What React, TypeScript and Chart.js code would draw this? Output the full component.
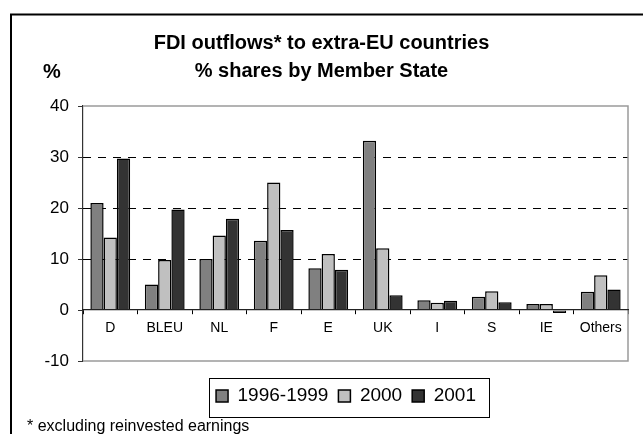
import { useEffect, useRef } from 'react';
import { Chart, registerables } from 'chart.js';

Chart.register(...registerables);

const categories = ['D', 'BLEU', 'NL', 'F', 'E', 'UK', 'I', 'S', 'IE', 'Others'];
const seriesLabels = ['1996-1999', '2000', '2001'];
const values9699 = [21, 5, 10, 13.6, 8.2, 33.2, 1.9, 2.6, 1.2, 3.6];
const values2000 = [14.2, 9.8, 14.6, 25, 11, 12.1, 1.4, 3.7, 1.2, 6.8];
const values2001 = [29.7, 19.7, 17.9, 15.7, 7.9, 2.9, 1.8, 1.5, -0.6, 4.0];
const seriesColors = ['#808080', '#c0c0c0', '#333333'];
const yMin = -10;
const yMax = 40;
const yStep = 10;
const titleLines = ['FDI outflows* to extra-EU countries', '% shares by Member State'];
const yUnit = '%';
const footnote = '* excluding reinvested earnings';

const FONT = "'Liberation Sans', Arial, Helvetica, sans-serif";

const decorPlugin = {
  id: 'decor',
  afterLayout(chart: any) {
    const lg = chart.legend;
    if (lg) {
      lg.left += 24.5;
      lg.right += 24.5;
    }
  },
  beforeDraw(chart: any) {
    const ctx = chart.ctx;
    ctx.save();
    ctx.fillStyle = '#ffffff';
    ctx.fillRect(0, 0, chart.width, chart.height);
    ctx.strokeStyle = '#000';
    ctx.lineWidth = 2;
    ctx.strokeRect(11, 14.5, chart.width + 40, chart.height + 40);
    ctx.restore();
  },
  beforeDatasetsDraw(chart: any) {
    const { ctx, chartArea: a } = chart;
    const y = chart.scales.y;
    ctx.save();
    ctx.strokeStyle = '#000';
    ctx.lineWidth = 1;
    ctx.setLineDash([8, 7]);
    y.ticks.forEach((t: any) => {
      if (t.value === y.min || t.value === y.max || t.value === 0) return;
      const py = Math.round(y.getPixelForValue(t.value)) + 0.5;
      ctx.beginPath();
      ctx.moveTo(a.left, py);
      ctx.lineTo(a.right, py);
      ctx.stroke();
    });
    ctx.setLineDash([]);
    ctx.strokeStyle = '#9a9a9a';
    ctx.lineWidth = 1.5;
    ctx.beginPath();
    ctx.moveTo(a.left, a.top);
    ctx.lineTo(a.right, a.top);
    ctx.lineTo(a.right, a.bottom);
    ctx.lineTo(a.left, a.bottom);
    ctx.stroke();
    ctx.restore();
  },
  afterDraw(chart: any) {
    const ctx = chart.ctx;
    ctx.save();
    const lg = chart.legend;
    if (lg && lg.legendHitBoxes && lg.legendHitBoxes.length) {
      const hb = lg.legendHitBoxes;
      let l = Infinity, r = -Infinity, t = Infinity, b = -Infinity;
      hb.forEach((h: any) => {
        l = Math.min(l, h.left);
        r = Math.max(r, h.left + h.width);
        t = Math.min(t, h.top);
        b = Math.max(b, h.top + h.height);
      });
      ctx.strokeStyle = '#000';
      ctx.lineWidth = 1;
      ctx.strokeRect(Math.round(l - 7) + 0.5, Math.round(t - 8.5) + 0.5, Math.round(r + 13 - (l - 7)), Math.round(b + 11.5 - (t - 8.5)));
    }
    ctx.fillStyle = '#000';
    ctx.textBaseline = 'alphabetic';
    ctx.textAlign = 'left';
    ctx.font = `bold 20px ${FONT}`;
    ctx.fillText(yUnit, 43, 78);
    ctx.font = `16px ${FONT}`;
    ctx.fillText(footnote, 27, 431);
    ctx.restore();
  },
};

export default function App() {
  const ref = useRef<HTMLCanvasElement | null>(null);
  useEffect(() => {
    if (!ref.current) return;
    const values = [values9699, values2000, values2001];
    const chart = new Chart(ref.current, {
      type: 'bar',
      data: {
        labels: categories,
        datasets: seriesLabels.map((lab, i) => ({
          label: lab,
          data: values[i],
          backgroundColor: seriesColors[i],
          borderColor: '#000',
          borderWidth: 1.5,
          categoryPercentage: 0.73,
          barPercentage: 1,
        })),
      },
      options: {
        responsive: false,
        animation: false,
        events: [],
        layout: { padding: { left: 15, right: 15, top: 0, bottom: 18.5 } },
        plugins: {
          tooltip: { enabled: false },
          title: {
            display: true,
            text: titleLines,
            color: '#000',
            font: { family: FONT, size: 20, weight: 'bold', lineHeight: 1.4 },
            padding: { top: 29, bottom: 21 },
          },
          legend: {
            display: true,
            position: 'bottom',
            title: { display: true, text: '', font: { size: 10, lineHeight: 1 }, padding: { top: 0, bottom: 5.5 } },
            labels: {
              color: '#000',
              font: { family: FONT, size: 19 },
              boxWidth: 12,
              boxHeight: 12,
              padding: 10,
            },
          },
        },
        scales: {
          x: {
            type: 'category',
            position: { y: 0 } as any,
            grid: {
              display: true,
              drawOnChartArea: false,
              drawTicks: true,
              tickLength: 4,
              tickColor: '#000',
              offset: true,
            },
            border: { display: true, color: '#222', width: 1.2, z: 1 },
            ticks: {
              color: '#000',
              font: { family: FONT, size: 14 },
              padding: 6,
              maxRotation: 0,
              autoSkip: false,
            },
          },
          y: {
            min: yMin,
            max: yMax,
            afterFit: (s: any) => {
              s.width = 68;
            },
            grid: {
              display: true,
              drawOnChartArea: false,
              drawTicks: true,
              tickLength: 5,
              tickColor: '#333',
            },
            border: { display: true, color: '#333', width: 1.2 },
            ticks: {
              stepSize: yStep,
              color: '#000',
              font: { family: FONT, size: 17 },
              padding: 9,
            },
          },
        },
      },
      plugins: [decorPlugin],
    });
    return () => chart.destroy();
  }, []);
  return (
    <div style={{ position: 'fixed', left: 0, top: 0, width: 643, height: 434, background: '#fff' }}>
      <canvas ref={ref} width={643} height={434} style={{ display: 'block' }} />
    </div>
  );
}
